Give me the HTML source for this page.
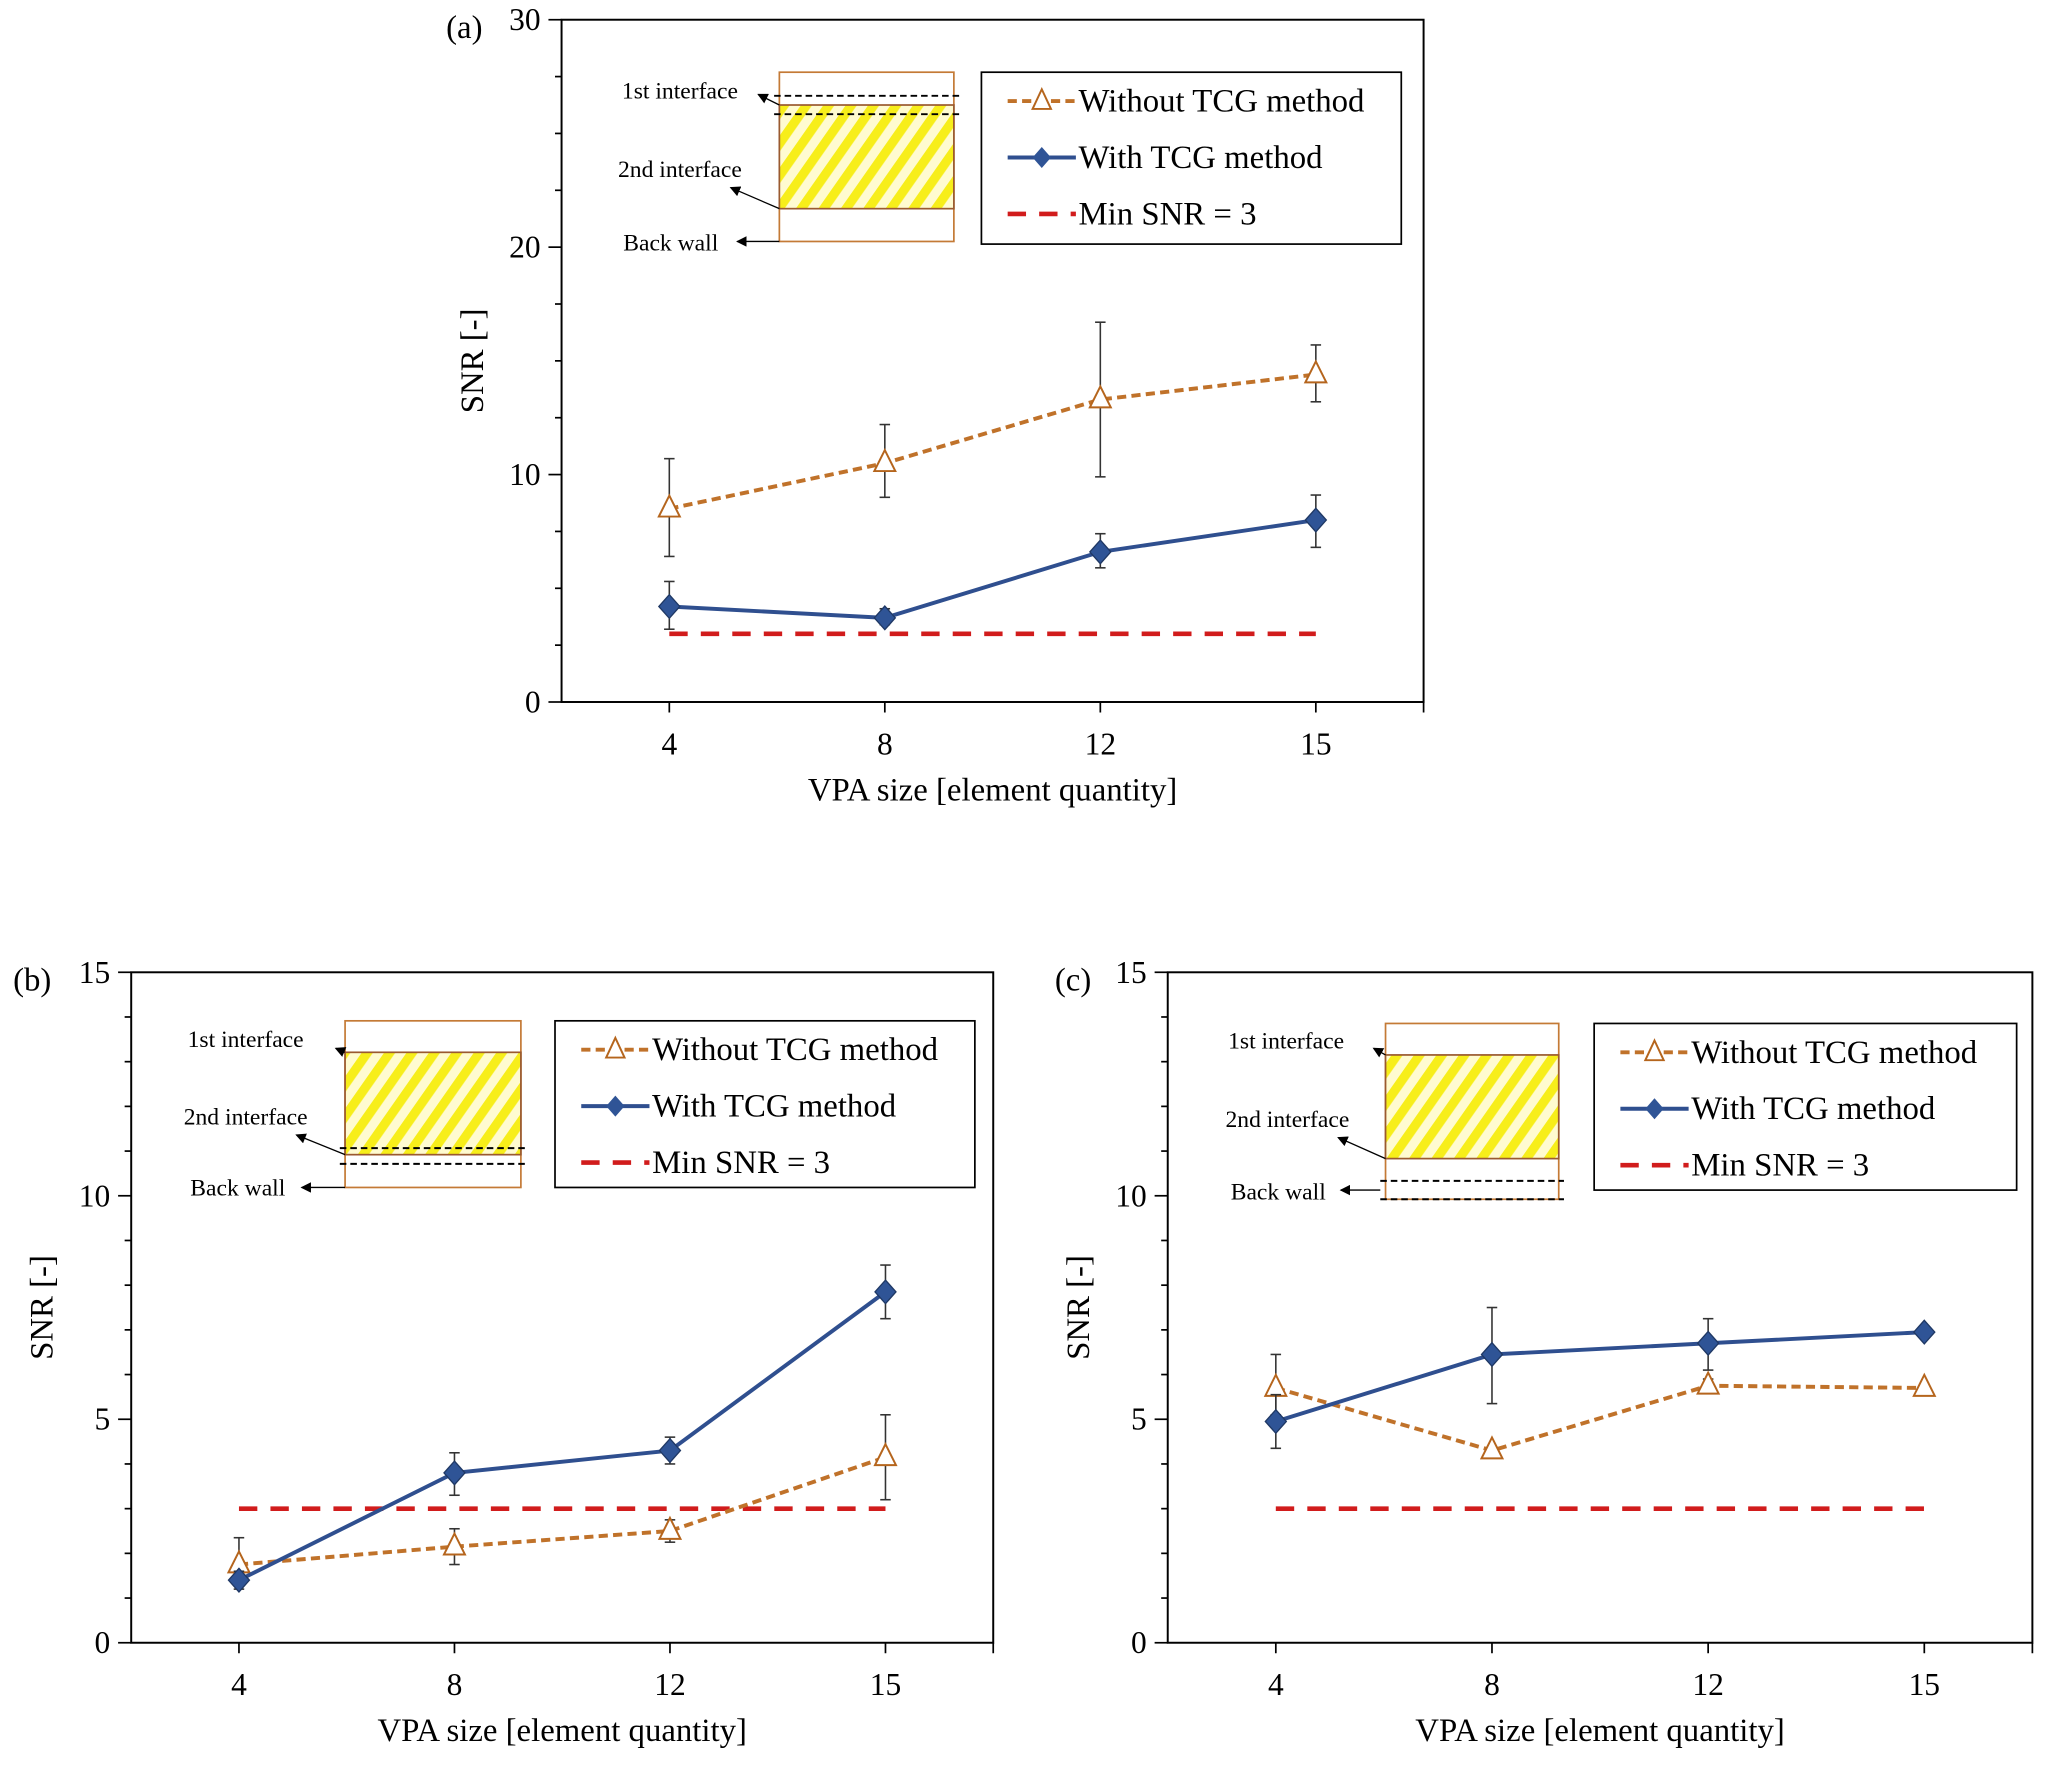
<!DOCTYPE html>
<html><head><meta charset="utf-8"><style>
html,body{margin:0;padding:0;background:#fff;}
svg{display:block;font-family:"Liberation Serif",serif;}
</style></head><body>
<svg id="fig" width="2056" height="1774" viewBox="0 0 1567 1352" xmlns="http://www.w3.org/2000/svg">
<defs>
<pattern id="hatch" patternUnits="userSpaceOnUse" width="14" height="14" patternTransform="rotate(35)">
<rect width="14" height="14" fill="#fffbd0"/><rect width="7" height="14" fill="#f7ee1a"/>
</pattern>
<marker id="arr" markerWidth="8" markerHeight="8" refX="7" refY="4" orient="auto"><path d="M0,0 L8,4 L0,8 z" fill="#000"/></marker>
</defs>
</svg>
<script>
const categories=["4","8","12","15"];
const aWithout=[8.5,10.5,13.3,14.4];
const aWithoutLo=[6.4,9.0,9.9,13.2];
const aWithoutHi=[10.7,12.2,16.7,15.7];
const aWith=[4.2,3.7,6.6,8.0];
const aWithLo=[3.2,3.4,5.9,6.8];
const aWithHi=[5.3,4.1,7.4,9.1];
const bWithout=[1.75,2.15,2.5,4.15];
const bWithoutLo=[1.3,1.75,2.25,3.2];
const bWithoutHi=[2.35,2.55,2.75,5.1];
const bWith=[1.4,3.8,4.3,7.85];
const bWithLo=[1.2,3.3,4.0,7.25];
const bWithHi=[1.6,4.25,4.6,8.45];
const cWithout=[5.7,4.3,5.75,5.7];
const cWithoutLo=[5.1,4.3,5.6,5.7];
const cWithoutHi=[6.45,4.3,5.9,5.7];
const cWith=[4.95,6.45,6.7,6.95];
const cWithLo=[4.35,5.35,6.1,6.95];
const cWithHi=[5.55,7.5,7.25,6.95];
const minSNR=3;
const NS="http://www.w3.org/2000/svg";
const svg=document.getElementById('fig');
function mk(tag,attrs,parent,text){const e=document.createElementNS(NS,tag);for(const k in attrs)e.setAttribute(k,attrs[k]);if(text!==undefined)e.textContent=text;(parent||svg).appendChild(e);return e;}
function chart(o){
 const g=mk('g',{});
 
 
 const {L,R,T,B,ymax,minor,major}=o;
 const ys=v=>B-(v/ymax)*(B-T);
 const slot=(R-L)/categories.length;
 const xs=i=>L+slot*(i+0.5);
 const frame=mk('rect',{x:L,y:T,width:R-L,height:B-T,fill:'none',stroke:'#000','stroke-width':1.5},g);
 
 for(let v=0;v<=ymax+1e-9;v+=minor){const isMaj=Math.abs(v/major-Math.round(v/major))<1e-6;mk('line',{x1:L-(isMaj?10:5),x2:L,y1:ys(v),y2:ys(v),stroke:'#000','stroke-width':1.3},g);
  if(isMaj){const t=mk('text',{x:L-16,y:ys(v)+8,'text-anchor':'end','font-size':24},g,String(v));}}
 categories.forEach((c,i)=>mk('line',{x1:xs(i),x2:xs(i),y1:B,y2:B+8,stroke:'#000','stroke-width':1.3},g));
 mk('line',{x1:R,x2:R,y1:B,y2:B+8,stroke:'#000','stroke-width':1.3},g);
 categories.forEach((c,i)=>{const t=mk('text',{x:xs(i),y:B+40,'text-anchor':'middle','font-size':24},g,c);});
 const xt=mk('text',{x:(L+R)/2,y:B+75,'text-anchor':'middle','font-size':25},g,'VPA size [element quantity]');
 
 const yt=mk('text',{x:0,y:0,'text-anchor':'middle','font-size':25,transform:`translate(${L-60},${(T+B)/2}) rotate(-90)`},g,'SNR [-]');
 
 const pl=mk('text',{x:o.plx,y:T+14,'font-size':25},g,o.label);
 
 const ml=mk('line',{x1:xs(0),x2:xs(3),y1:ys(minSNR),y2:ys(minSNR),stroke:'#d11c1c','stroke-width':3.5,'stroke-dasharray':'14 10'},g);
 
 function series(vals,lo,hi,name,color,dash,marker){
  const sg=mk('g',{},g);
  vals.forEach((v,i)=>{const x=xs(i);mk('line',{x1:x,x2:x,y1:ys(lo[i]),y2:ys(hi[i]),stroke:'#333','stroke-width':1.2},sg);
   mk('line',{x1:x-4,x2:x+4,y1:ys(lo[i]),y2:ys(lo[i]),stroke:'#333','stroke-width':1.2},sg);
   mk('line',{x1:x-4,x2:x+4,y1:ys(hi[i]),y2:ys(hi[i]),stroke:'#333','stroke-width':1.2},sg);});
  const ln=mk('polyline',{points:vals.map((v,i)=>xs(i)+','+ys(v)).join(' '),fill:'none',stroke:color,'stroke-width':3,'stroke-dasharray':dash},sg);
  
  vals.forEach((v,i)=>{const x=xs(i),y=ys(v);let m;
   if(marker==='tri')m=mk('path',{d:`M${x},${y-10} L${x+8},${y+6} L${x-8},${y+6} Z`,fill:'#fff',stroke:'#b5651d','stroke-width':1.5},sg);
   else m=mk('path',{d:`M${x},${y-9} L${x+8},${y} L${x},${y+9} L${x-8},${y} Z`,fill:'#2f5496',stroke:'#1f3864','stroke-width':1},sg);
   });
 }
 series(o.wo,o.woLo,o.woHi,'without-tcg','#c0722a','7 4','tri');
 series(o.w,o.wLo,o.wHi,'with-tcg','#2f4f8f','','dia');
 const lg=mk('g',{},g);
 const [lx,ly,lw,lh]=o.leg;
 mk('rect',{x:lx,y:ly,width:lw,height:lh,fill:'#fff',stroke:'#000','stroke-width':1.3},lg);
 const rows=[22,65,108];
 const labels=['Without TCG method','With TCG method','Min SNR = 3'];
 rows.forEach((dy,k)=>{const y=ly+dy;const sx=lx+20;
  const e=mk('g',{},lg);
  if(k===0){mk('line',{x1:sx,x2:sx+52,y1:y,y2:y,stroke:'#c0722a','stroke-width':3,'stroke-dasharray':'7 4'},e);mk('path',{d:`M${sx+26},${y-9} L${sx+33},${y+6} L${sx+19},${y+6} Z`,fill:'#fff',stroke:'#b5651d','stroke-width':1.5},e);}
  if(k===1){mk('line',{x1:sx,x2:sx+52,y1:y,y2:y,stroke:'#2f4f8f','stroke-width':3},e);mk('path',{d:`M${sx+26},${y-8} L${sx+33},${y} L${sx+26},${y+8} L${sx+19},${y} Z`,fill:'#2f5496'},e);}
  if(k===2){mk('line',{x1:sx,x2:sx+52,y1:y,y2:y,stroke:'#d11c1c','stroke-width':3.5,'stroke-dasharray':'14 10'},e);}
  mk('text',{x:sx+54,y:y+8,'font-size':25},e,labels[k]);});
 const ig=mk('g',{},g);
 const I=o.ins;
 mk('rect',{x:I.x,y:I.y,width:I.w,height:I.h,fill:'#fff',stroke:'#c47a36','stroke-width':1.3},ig);
 mk('rect',{x:I.x,y:I.hy1,width:I.w,height:I.hy2-I.hy1,fill:'url(#hatch)',stroke:'#9a5a30','stroke-width':1.3},ig);
 I.dash.forEach(d=>mk('line',{x1:I.x-4,x2:I.x+I.w+4,y1:d,y2:d,stroke:'#000','stroke-width':1.5,'stroke-dasharray':'5 3'},ig));
 I.labels.forEach(l=>{mk('text',{x:l[0],y:l[1],'font-size':18},ig,l[2]);mk('line',{x1:l[5],y1:l[6],x2:l[3],y2:l[4],stroke:'#000','stroke-width':1,'marker-end':'url(#arr)'},ig);});
}
chart({id:'a',label:'(a)',plx:340,L:428,R:1085,T:15,B:535,ymax:30,minor:2.5,major:10,
 wo:aWithout,woLo:aWithoutLo,woHi:aWithoutHi,w:aWith,wLo:aWithLo,wHi:aWithHi,leg:[748,55,320,131],
 ins:{x:594,y:55,w:133,h:129,hy1:80,hy2:159,dash:[73,87],labels:[[474,75,'1st interface',578,72,594,80],[471,135,'2nd interface',557,143,594,159],[475,191,'Back wall',562,184,594,184]]}});
chart({id:'b',label:'(b)',plx:10,L:100,R:757,T:741,B:1252,ymax:15,minor:1,major:5,
 wo:bWithout,woLo:bWithoutLo,woHi:bWithoutHi,w:bWith,wLo:bWithLo,wHi:bWithHi,leg:[423,778,320,127],
 ins:{x:263,y:778,w:134,h:127,hy1:802,hy2:880,dash:[875,887],labels:[[143,798,'1st interface',256,799,263,802],[140,857,'2nd interface',226,865,263,880],[145,911,'Back wall',230,905,263,905]]}});
chart({id:'c',label:'(c)',plx:804,L:890,R:1549,T:741,B:1252,ymax:15,minor:1,major:5,
 wo:cWithout,woLo:cWithoutLo,woHi:cWithoutHi,w:cWith,wLo:cWithLo,wHi:cWithHi,leg:[1215,780,322,127],
 ins:{x:1056,y:780,w:132,h:134,hy1:804,hy2:883,dash:[900,914],labels:[[936,799,'1st interface',1047,799,1056,804],[934,859,'2nd interface',1020,867,1056,883],[938,914,'Back wall',1022,907,1052,907]]}});
</script>
</body></html>
